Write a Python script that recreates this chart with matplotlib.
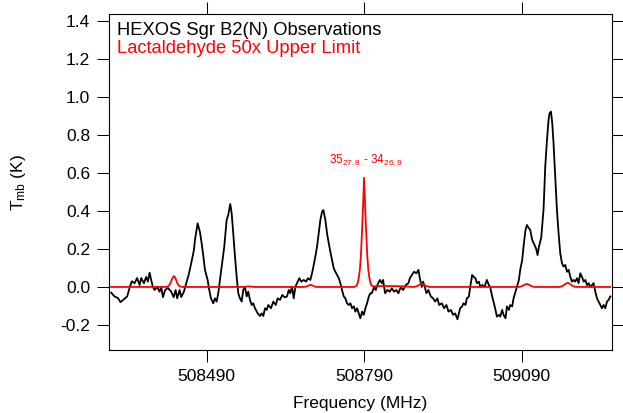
import matplotlib
matplotlib.use("Agg")
import matplotlib.pyplot as plt

plt.rcParams["font.family"] = ["Liberation Sans", "DejaVu Sans"]
plt.rcParams["mathtext.fontset"] = "custom"
plt.rcParams["mathtext.rm"] = "Liberation Sans"
plt.rcParams["mathtext.it"] = "Liberation Sans"
plt.rcParams["axes.unicode_minus"] = False

# Espectro observado (HEXOS Sgr B2(N)): frecuencia (MHz) y Tmb (K)
obs_freq = [
    508308.1, 508314.5, 508320.8, 508326.0, 508332.3, 508338.6, 508343.1, 508347.5,
    508352.7, 508357.6, 508362.2, 508365.3, 508370.4, 508374.8, 508378.0, 508381.3,
    508384.3, 508387.6, 508390.8, 508395.8, 508400.4, 508403.4, 508406.7, 508411.0,
    508416.2, 508422.5, 508427.1, 508430.9, 508433.9, 508438.5, 508441.6, 508446.7,
    508451.1, 508455.7, 508460.6, 508465.8, 508467.7, 508472.8, 508477.2, 508480.5,
    508483.5, 508486.8, 508491.9, 508494.4, 508498.2, 508502.6, 508505.8, 508509.1,
    508512.1, 508515.4, 508518.6, 508523.6, 508528.1, 508531.2, 508535.0, 508537.7,
    508540.7, 508544.0, 508547.2, 508550.3, 508553.5, 508556.8, 508559.8, 508563.0,
    508566.3, 508569.3, 508572.6, 508575.8, 508578.9, 508582.1, 508587.3, 508591.7,
    508594.9, 508598.0, 508601.2, 508604.4, 508607.5, 508612.6, 508617.0, 508621.6,
    508625.4, 508629.8, 508634.2, 508638.8, 508643.1, 508646.4, 508649.4, 508652.7,
    508655.9, 508659.0, 508662.2, 508666.6, 508670.4, 508675.0, 508679.4, 508683.2,
    508687.6, 508690.8, 508694.1, 508697.1, 508700.4, 508703.6, 508706.7, 508709.9,
    508712.4, 508716.2, 508719.4, 508722.7, 508725.7, 508729.0, 508732.2, 508735.3,
    508738.5, 508741.8, 508744.8, 508748.0, 508751.3, 508754.3, 508757.6, 508760.8,
    508763.9, 508767.1, 508770.4, 508773.4, 508776.7, 508779.9, 508782.9, 508786.2,
    508789.4, 508792.5, 508795.7, 508799.0, 508802.0, 508804.7, 508809.1, 508812.3,
    508815.4, 508820.0, 508823.8, 508826.2, 508830.1, 508834.4, 508839.0, 508842.8,
    508847.2, 508851.6, 508855.4, 508860.0, 508864.4, 508869.5, 508874.5, 508877.2,
    508881.0, 508885.4, 508889.8, 508893.6, 508896.2, 508900.0, 508902.5, 508906.3,
    508908.8, 508912.6, 508917.2, 508921.6, 508925.4, 508929.8, 508933.0, 508938.2,
    508942.6, 508947.0, 508950.8, 508955.4, 508959.7, 508963.6, 508967.9, 508973.1,
    508976.9, 508979.4, 508983.2, 508985.9, 508989.7, 508992.2, 508996.0, 508998.5,
    509002.3, 509004.9, 509008.8, 509011.2, 509015.1, 509019.4, 509024.0, 509027.8,
    509030.3, 509034.1, 509036.6, 509040.4, 509043.1, 509046.9, 509049.4, 509053.2,
    509055.7, 509059.5, 509062.2, 509066.0, 509068.5, 509072.3, 509074.8, 509078.6,
    509081.2, 509085.0, 509087.5, 509091.3, 509093.8, 509097.6, 509100.3, 509104.1,
    509106.6, 509110.4, 509114.8, 509118.0, 509120.5, 509123.2, 509127.6, 509132.0,
    509135.2, 509138.5, 509141.5, 509143.4, 509146.1, 509148.6, 509151.0, 509154.3,
    509157.5, 509160.6, 509163.8, 509167.1, 509170.1, 509173.4, 509176.6, 509179.7,
    509182.9, 509186.1, 509189.2, 509192.4, 509195.7, 509198.7, 509202.0, 509205.2,
    509208.3, 509211.5, 509214.7, 509217.8, 509221.0, 509224.3, 509227.3, 509230.6,
    509233.8, 509236.9, 509240.1, 509243.3, 509246.4, 509249.6, 509252.9, 509255.9,
    509259.2,
]
obs_tmb = [
    -0.030, -0.050, -0.058, -0.080, -0.065, -0.050, -0.005, 0.030,
    0.020, 0.047, 0.010, 0.047, 0.020, 0.053, 0.028, 0.075,
    0.037, 0.000, -0.016, 0.000, -0.025, 0.000, -0.054, -0.016,
    -0.005, -0.025, -0.054, -0.016, -0.060, -0.016, -0.053, -0.025,
    0.020, 0.063, 0.125, 0.195, 0.247, 0.335, 0.290, 0.230,
    0.168, 0.090, 0.037, -0.007, -0.060, -0.086, -0.060, -0.077,
    -0.033, 0.037, 0.107, 0.212, 0.353, 0.379, 0.437, 0.388,
    0.283, 0.160, 0.054, -0.033, -0.060, -0.077, -0.016, 0.000,
    -0.050, -0.025, -0.068, -0.095, -0.086, -0.112, -0.139, -0.153,
    -0.139, -0.153, -0.112, -0.121, -0.095, -0.112, -0.077, -0.095,
    -0.060, -0.068, -0.042, -0.055, -0.050, -0.016, -0.033, 0.000,
    -0.060, 0.000, 0.020, 0.046, 0.028, 0.037, 0.028, 0.046,
    0.037, 0.072, 0.116, 0.160, 0.212, 0.283, 0.353, 0.396,
    0.405, 0.353, 0.283, 0.230, 0.186, 0.142, 0.098, 0.080,
    0.063, 0.046, 0.020, -0.016, -0.050, -0.060, -0.086, -0.095,
    -0.086, -0.112, -0.102, -0.130, -0.112, -0.139, -0.165, -0.130,
    -0.147, -0.112, -0.086, -0.050, -0.033, -0.033, 0.000, -0.016,
    0.010, 0.037, 0.020, 0.037, -0.033, -0.016, -0.025, -0.007,
    -0.025, -0.016, -0.033, 0.000, -0.016, 0.010, 0.020, 0.046,
    0.063, 0.080, 0.072, 0.090, 0.046, 0.000, 0.028, -0.007,
    -0.033, -0.016, -0.050, -0.060, -0.077, -0.060, -0.095, -0.086,
    -0.112, -0.095, -0.130, -0.121, -0.147, -0.139, -0.170, -0.112,
    -0.102, -0.086, -0.095, -0.060, -0.050, 0.000, 0.063, 0.054,
    0.046, 0.020, 0.028, 0.000, 0.010, 0.000, 0.037, 0.010,
    0.000, -0.050, -0.077, -0.121, -0.156, -0.147, -0.156, -0.121,
    -0.147, -0.165, -0.102, -0.121, -0.095, -0.102, -0.060, -0.025,
    0.000, 0.037, 0.090, 0.142, 0.212, 0.300, 0.326, 0.309,
    0.300, 0.247, 0.221, 0.200, 0.168, 0.212, 0.260, 0.410,
    0.633, 0.774, 0.879, 0.914, 0.923, 0.862, 0.756, 0.580,
    0.405, 0.283, 0.177, 0.125, 0.107, 0.116, 0.080, 0.090,
    0.054, 0.028, 0.037, 0.028, 0.046, 0.020, 0.072, 0.054,
    0.028, 0.037, 0.010, 0.020, 0.000, 0.010, 0.020, -0.025,
    -0.060, -0.077, -0.095, -0.112, -0.095, -0.112, -0.077, -0.068,
    -0.050,
]

# Modelo de lactaldehido (limite superior x50)
mod_freq = [
    508308.0, 508410.0, 508415.6, 508418.6, 508421.6, 508424.6, 508427.6, 508430.6,
    508433.6, 508436.6, 508439.6, 508445.0, 508560.0, 508570.0, 508580.0, 508675.0,
    508680.0, 508684.0, 508688.0, 508692.0, 508696.0, 508700.0, 508770.0, 508773.0,
    508776.0, 508778.0, 508780.0, 508782.0, 508784.0, 508786.0, 508788.0, 508790.0,
    508792.0, 508794.0, 508796.0, 508798.0, 508800.0, 508802.0, 508804.0, 508807.0,
    508812.0, 508830.0, 508860.0, 508885.0, 508891.0, 508895.0, 508900.0, 508905.0,
    508909.0, 508915.0, 509085.0, 509091.0, 509095.0, 509100.0, 509105.0, 509109.0,
    509115.0, 509163.0, 509169.0, 509173.0, 509178.0, 509183.0, 509187.0, 509193.0,
    509259.0,
]
mod_tmb = [
    0.000, 0.000, 0.002, 0.008, 0.024, 0.046, 0.058, 0.046,
    0.024, 0.008, 0.002, 0.000, 0.000, 0.003, 0.000, 0.000,
    0.002, 0.007, 0.012, 0.007, 0.002, 0.000, 0.000, 0.002,
    0.008, 0.023, 0.050, 0.092, 0.168, 0.288, 0.423, 0.575,
    0.423, 0.288, 0.168, 0.092, 0.050, 0.023, 0.008, 0.003,
    0.004, 0.005, 0.004, 0.000, 0.004, 0.011, 0.016, 0.011,
    0.004, 0.000, 0.000, 0.004, 0.011, 0.016, 0.011, 0.004,
    0.000, 0.000, 0.006, 0.015, 0.022, 0.015, 0.006, 0.000,
    0.000,
]

x_ticks = [508490, 508790, 509090]
y_ticks = [-0.2, 0.0, 0.2, 0.4, 0.6, 0.8, 1.0, 1.2, 1.4]

fig = plt.figure(figsize=(6.23, 4.13), dpi=100)
ax = fig.add_axes([0.175, 0.1525, 0.807, 0.8135])

ax.plot(obs_freq, obs_tmb, color="black", lw=1.3)
ax.plot(mod_freq, mod_tmb, color="#ff0000", lw=1.3)

ax.set_xlim(508304, 509262)
ax.set_ylim(-0.332, 1.437)
ax.set_xticks(x_ticks)
ax.set_xticklabels([str(t) for t in x_ticks])
ax.set_yticks(y_ticks)
ax.set_yticklabels([f"{t:.1f}" for t in y_ticks])

for lado in ax.spines.values():
    lado.set_linewidth(0.8)
ax.tick_params(direction="out", length=8.6, width=0.75, top=True, right=True,
               labelsize=12.5, pad=5)

ax.set_xlabel("Frequency (MHz)", fontsize=12.5, labelpad=9)
ax.set_ylabel(r"T$_{\mathrm{mb}}$ (K)", fontsize=12.5, labelpad=23)

ax.text(0.016, 0.975, "HEXOS Sgr B2(N) Observations", transform=ax.transAxes,
        fontsize=13.2, color="black", ha="left", va="top")
ax.text(0.016, 0.922, "Lactaldehyde 50x Upper Limit", transform=ax.transAxes,
        fontsize=13.2, color="#ff0000", ha="left", va="top")
ax.text(508793, 0.67, r"$35_{27,8}$ - $34_{26,9}$", fontsize=8.5,
        color="#ff0000", ha="center", va="center")

fig.savefig("out.png", dpi=100)
